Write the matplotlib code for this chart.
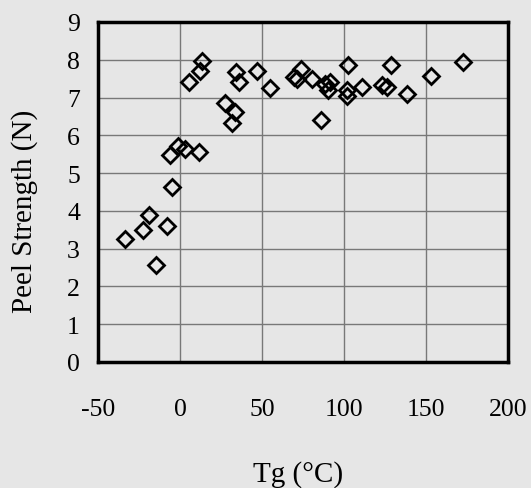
import matplotlib
matplotlib.use("Agg")
import matplotlib.pyplot as plt

tg = [-33.5, -22.8, -19.1, -14.8, -8.1, -4.7, -6, -1, 3, 11.4,
      5.5, 12.4, 13.6, 27.4, 31.9, 33.5, 34.1, 36.2, 47.2, 54.9,
      69.5, 71.5, 73.8, 80.2, 86, 88.4, 91.5, 90, 102.2, 101.6,
      102, 111.2, 122.9, 126, 128.6, 138.2, 152.8, 172.7]
peel = [3.26, 3.50, 3.90, 2.58, 3.60, 4.63, 5.49, 5.72, 5.63, 5.55,
        7.42, 7.70, 7.97, 6.85, 6.32, 6.63, 7.67, 7.41, 7.71, 7.26,
        7.55, 7.48, 7.76, 7.49, 6.41, 7.36, 7.41, 7.20, 7.85, 7.19,
        7.05, 7.27, 7.34, 7.27, 7.85, 7.10, 7.58, 7.94]

xticks = [-50, 0, 50, 100, 150, 200]
yticks = list(range(0, 10))

bg = "#e6e6e6"
serif = ["Liberation Serif", "DejaVu Serif"]
plt.rcParams["font.family"] = serif
plt.rcParams["axes.unicode_minus"] = False

fig = plt.figure(figsize=(5.31, 4.89), dpi=100, facecolor=bg)
ax = fig.add_axes([0.1846, 0.2577, 0.7721, 0.6953])
ax.set_facecolor(bg)

ax.plot(tg, peel, linestyle="none", marker="D", markersize=8.5,
        markerfacecolor="none", markeredgecolor="black", markeredgewidth=2, zorder=3)

ax.set_xlim(-50, 200)
ax.set_ylim(0, 9)
ax.set_xticks(xticks)
ax.set_yticks(yticks)
ax.tick_params(axis="both", length=0, labelsize=18.5)
ax.tick_params(axis="x", pad=26)
ax.tick_params(axis="y", pad=13)
ax.grid(True, color="#787878", linewidth=1)
ax.set_axisbelow(True)
for s in ax.spines.values():
    s.set_linewidth(2.5)
    s.set_color("black")

ax.set_xlabel("Tg (°C)", fontsize=21, labelpad=29, x=0.487)
ax.set_ylabel("Peel Strength (N)", fontsize=21, labelpad=21, y=0.447)

fig.savefig("out.png", dpi=100, facecolor=bg)
